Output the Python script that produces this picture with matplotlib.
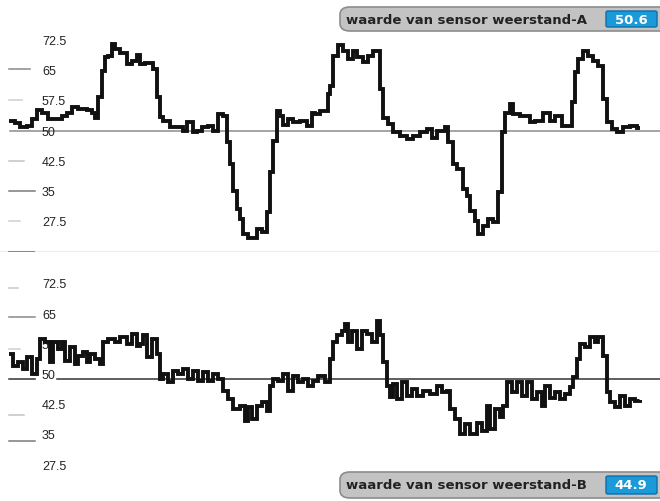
import matplotlib.pyplot as plt
from matplotlib.patches import FancyBboxPatch
import matplotlib.transforms as mtransforms

# sensor A (top) : time in screen steps, readings
t_a = [9, 15, 20, 27, 32, 37, 42, 48, 53, 62, 67, 72, 78, 87, 92, 95, 98, 102, 105, 108,
       112, 115, 120, 127, 132, 137, 140, 145, 153, 157, 160, 163, 170, 177, 183, 187, 193, 197, 202, 208,
       213, 218, 223, 227, 230, 233, 237, 240, 243, 248, 257, 262, 267, 270, 273, 277, 280, 283, 288, 293,
       300, 307, 312, 315, 320, 328,
       330, 333, 338, 343, 348, 353, 357, 363, 368, 373, 380, 383, 388, 393, 400, 407, 413, 420, 427, 432,
       437, 445, 448, 453, 457, 463, 467, 470, 475, 478, 483, 488, 493, 498, 502, 505, 510, 513, 520, 530,
       535, 543, 550, 555, 562, 567, 572, 575, 578, 583, 588, 593, 598, 603, 607, 612, 617, 623, 630, 637, 640]
val_a = [52.5, 51.9, 50.8, 51.2, 52.9, 55.2, 54.5, 52.9, 52.9, 53.7, 54.5, 55.8, 55.5, 55.2, 54.5, 53.2, 58.3, 64.9, 68.2, 68.6,
         71.5, 70.3, 69.4, 66.5, 67.4, 68.8, 66.5, 66.9, 65.3, 58.3, 53.3, 52.5, 50.8, 51.0, 50.0, 52.1, 49.6, 50.0, 50.8, 51.2,
         50.0, 54.1, 53.7, 47.1, 41.7, 35.1, 30.6, 28.1, 24.4, 23.3, 25.6, 24.8, 29.9, 39.7, 47.5, 55.0, 53.7, 51.4, 52.9, 52.1,
         52.5, 51.2, 54.5, 54.1, 55.0, 59.1,
         61.2, 68.6, 71.3, 69.9, 67.8, 69.9, 68.2, 67.0, 68.6, 69.9, 60.3, 53.1, 51.7, 49.6, 48.8, 47.9, 48.8, 49.6, 50.4, 48.3,
         50.0, 50.8, 47.1, 41.7, 40.5, 35.5, 33.9, 30.1, 27.7, 24.4, 26.4, 28.1, 27.3, 34.7, 49.6, 54.5, 56.6, 54.1, 53.7, 52.1,
         52.5, 54.5, 52.5, 53.7, 51.2, 51.2, 57.0, 64.5, 67.8, 69.9, 68.6, 67.4, 66.1, 57.9, 52.1, 50.4, 49.6, 50.8, 51.2, 50.6, 50.6]

# sensor B (bottom)
t_b = [9, 13, 18, 23, 27, 32, 37, 40, 45, 50, 53, 58, 62, 65, 70, 75, 78, 83, 87, 90,
       95, 100, 103, 108, 115, 120, 127, 132, 137, 140, 143, 147, 152, 157, 160, 163, 168, 173, 178, 183,
       188, 193, 198, 203, 208, 213, 218, 223, 228, 233, 240, 245, 248, 252, 257, 262, 267, 270, 273, 278,
       283, 288, 293, 298, 303, 308, 313, 318, 325,
       330, 333, 337, 342, 345, 348, 352, 357, 362, 367, 372, 377, 380, 383, 387, 390, 393, 397, 402, 407,
       412, 417, 423, 430, 437, 442, 447, 450, 455, 460, 465, 470, 477, 482, 487, 490, 495, 500, 503, 507,
       512, 517, 522, 527, 532, 537, 542, 545, 550, 555, 560, 565, 570, 573, 577, 580, 585, 590, 595, 598,
       603, 607, 610, 615, 620, 625, 630, 635, 640]
val_b = [56.2, 53.3, 54.1, 52.5, 55.4, 51.2, 55.0, 59.9, 59.1, 54.1, 59.1, 57.4, 59.1, 54.5, 57.9, 53.7, 55.8, 56.6, 54.1, 56.2,
         55.0, 53.7, 59.1, 59.9, 59.1, 60.3, 58.7, 61.2, 58.3, 58.7, 60.8, 55.4, 59.9, 56.2, 50.0, 51.2, 49.2, 52.1, 51.2, 52.5,
         50.0, 52.1, 49.6, 51.7, 49.6, 51.2, 50.0, 47.1, 45.0, 42.6, 43.4, 39.7, 43.0, 40.1, 43.4, 44.2, 42.1, 48.3, 50.0, 49.6,
         51.2, 47.1, 50.8, 49.2, 50.0, 48.3, 49.6, 50.8, 49.2,
         55.0, 59.1, 60.9, 62.0, 63.6, 59.1, 62.0, 57.4, 62.0, 61.2, 59.1, 64.5, 60.8, 54.1, 48.3, 45.5, 48.8, 45.0, 49.2, 45.9,
         47.5, 45.9, 47.1, 46.3, 48.3, 46.7, 47.1, 42.6, 40.1, 36.4, 38.8, 36.4, 39.2, 37.2, 43.4, 37.6, 42.6, 40.5, 43.4, 49.2,
         46.7, 49.2, 45.9, 49.2, 45.0, 46.7, 43.4, 48.3, 45.4, 46.7, 45.0, 46.3, 47.9, 50.4, 55.0, 58.7, 57.9, 60.3, 59.1, 60.3,
         55.8, 46.7, 44.2, 43.0, 45.9, 43.4, 45.0, 44.6, 44.9]

tick_labels = ["72.5", "65", "57.5", "50", "42.5", "35", "27.5"]
tick_vals = [72.5, 65, 57.5, 50, 42.5, 35, 27.5]

names = ["waarde van sensor weerstand-A", "waarde van sensor weerstand-B"]
readouts = ["50.6", "44.9"]

W, H = 660, 502
fig = plt.figure(figsize=(6.6, 5.02), dpi=100)
PX = 4.03  # pixels per unit

ax1 = fig.add_axes([0, 249 / H, 1, 253 / H])
ax2 = fig.add_axes([0, 0, 1, 249 / H])
ax1.set_ylim(50 - (253 - 131.7) / PX, 50 + 131.7 / PX)
ax2.set_ylim(50 - 122 / PX, 50 + 127 / PX)
for ax in (ax1, ax2):
    ax.set_xlim(0, W)
    ax.axis('off')

# top panel guides
ax1.plot([10, W], [50, 50], color='#8c8c8c', lw=1.1, zorder=1)
for v, x1, c in [(65.3, 30, '#8a8a8a'), (57.5, 22, '#cfcfcf'), (42.5, 24, '#c4c4c4'),
                 (35, 35, '#7a7a7a'), (27.5, 20, '#cfcfcf')]:
    ax1.plot([9, x1], [v, v], color=c, lw=1.1)
ybot = ax1.get_ylim()[0] + 0.1
ax1.plot([0, W], [ybot, ybot], color='#ececec', lw=1.5)
ax1.plot([9, 33], [ybot, ybot], color='#8a8a8a', lw=2.2)
for lab, v in zip(tick_labels, tick_vals):
    ax1.text(42, v - 0.2, lab, fontsize=9, family='Liberation Sans', color='#222222', va='center', ha='left')

ax1.plot(t_a, val_a, drawstyle='steps-post', color='#111111', lw=2.8,
         solid_joinstyle='miter', solid_capstyle='butt', zorder=3)

# bottom panel guides
ax2.plot([57, W], [50, 50], color='#333333', lw=1.1, zorder=1)
ax2.plot([9, 35], [50, 50], color='#333333', lw=1.1, zorder=1)
for v, x1, c in [(72.6, 18, '#c8c8c8'), (65.4, 35, '#8a8a8a'), (57.4, 20, '#cfcfcf'),
                 (41.1, 24, '#c4c4c4'), (34.7, 35, '#7a7a7a')]:
    ax2.plot([9, x1], [v, v], color=c, lw=1.1)
off = mtransforms.offset_copy(ax2.transData, fig=fig, x=0, y=4, units='dots')
for lab, v in zip(tick_labels, tick_vals):
    ax2.text(42, v, lab, fontsize=9, family='Liberation Sans', color='#222222', va='center', ha='left',
             transform=off)

ax2.plot(t_b, val_b, drawstyle='steps-post', color='#111111', lw=2.8,
         solid_joinstyle='miter', solid_capstyle='butt', zorder=3)

# readout boxes (pixel coords from top)
def readout(y0, y1, name, value):
    fy = lambda y: 1 - y / H
    box = FancyBboxPatch((340 / W, fy(y1)), 340 / W, (y1 - y0) / H,
                         boxstyle="round,pad=0,rounding_size=0.015", transform=fig.transFigure,
                         facecolor='#c3c3c3', edgecolor='#8c8c8c', lw=1.2, zorder=5)
    fig.add_artist(box)
    fig.text(346 / W, fy((y0 + y1) / 2), name, fontsize=9.5, fontweight='bold',
             family='DejaVu Sans', color='#222222', va='center', ha='left', zorder=6)
    vb = FancyBboxPatch((606 / W, fy(y1 - 4)), 51 / W, (y1 - y0 - 8) / H,
                        boxstyle="round,pad=0,rounding_size=0.003", transform=fig.transFigure,
                        facecolor='#1a9ad8', edgecolor='#0d6ea8', lw=1.0, zorder=6)
    fig.add_artist(vb)
    fig.text(631 / W, fy((y0 + y1) / 2), value, fontsize=9.5, fontweight='bold',
             family='DejaVu Sans', color='white', va='center', ha='center', zorder=7)

readout(8, 32, names[0], readouts[0])
readout(473, 499, names[1], readouts[1])

fig.savefig('out.png', dpi=100)
